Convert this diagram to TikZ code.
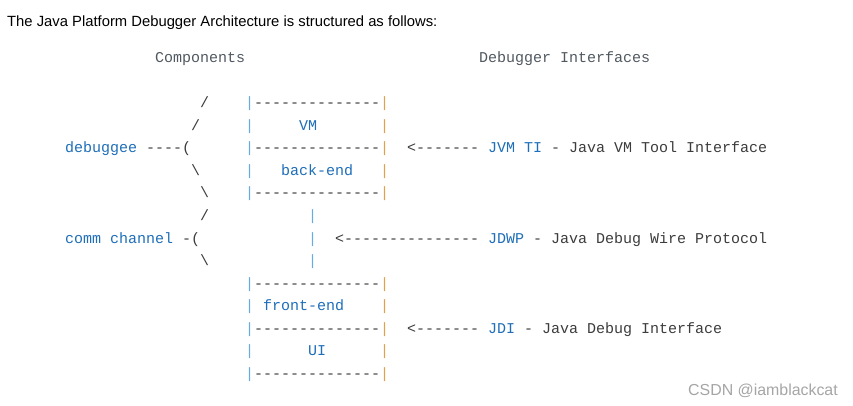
\documentclass[tikz,border=0pt]{standalone}
\usepackage{fontspec}
\setmainfont{Liberation Sans}
\setmonofont{Liberation Mono}
\definecolor{codeblue}{RGB}{30,110,185}
\definecolor{codegrey}{RGB}{60,60,60}
\definecolor{headgrey}{RGB}{80,88,96}
\definecolor{pipeblue}{RGB}{105,170,225}
\definecolor{pipeorange}{RGB}{225,160,80}
\definecolor{markgrey}{RGB}{165,165,165}
\tikzset{
	code/.style={anchor=base west, inner sep=0pt, font=\ttfamily\fontsize{15}{18}\selectfont, text=codegrey},
	ident/.style={code, text=codeblue},
	head/.style={code, text=headgrey},
	lpipe/.style={code, text=pipeblue},
	rpipe/.style={code, text=pipeorange},
	prose/.style={anchor=base west, inner sep=0pt, font=\fontsize{14.8}{18}\selectfont}
}

\begin{document}
\begin{tikzpicture}[x=9pt, y=-22.5pt]
	\useasboundingbox (-65pt,63pt) rectangle (788pt,-343pt);
	\node[prose] (title) at (-58pt,36pt) {The Java Platform Debugger Architecture is structured as follows:};
	\node[head] (comps) at (10,0) {Components};
	\node[head] (ifaces) at (46,0) {Debugger Interfaces};

	% VM / back-end box
	\node[code] (sl1) at (15,2) {/};
	\node[lpipe] (ruleAl) at (20,2) {|};
	\node[code] (ruleA) at (21,2) {--------------};
	\node[rpipe] (ruleAr) at (35,2) {|};
	\node[code] (sl2) at (14,3) {/};
	\node[lpipe] (vml) at (20,3) {|};
	\node[ident] (vm) at (26,3) {VM};
	\node[rpipe] (vmr) at (35,3) {|};
	\node[ident] (debuggee) at (0,4) {debuggee};
	\node[code] (debrace) at (9,4) {----(};
	\node[lpipe] (ruleBl) at (20,4) {|};
	\node[code] (ruleB) at (21,4) {--------------};
	\node[rpipe] (ruleBr) at (35,4) {|};
	\node[code] (jvmtiarrow) at (38,4) {<-------};
	\node[ident] (jvmti) at (47,4) {JVM TI};
	\node[code] (jvmtitext) at (54,4) {- Java VM Tool Interface};
	\node[code] (bs1) at (14,5) {\textbackslash};
	\node[lpipe] (bel) at (20,5) {|};
	\node[ident] (backend) at (24,5) {back-end};
	\node[rpipe] (ber) at (35,5) {|};
	\node[code] (bs2) at (15,6) {\textbackslash};
	\node[lpipe] (ruleCl) at (20,6) {|};
	\node[code] (ruleC) at (21,6) {--------------};
	\node[rpipe] (ruleCr) at (35,6) {|};

	% comm channel
	\node[code] (sl3) at (15,7) {/};
	\node[lpipe] (cha) at (27,7) {|};
	\node[ident] (comm) at (0,8) {comm channel};
	\node[code] (commbrace) at (13,8) {-(};
	\node[lpipe] (chb) at (27,8) {|};
	\node[code] (jdwparrow) at (30,8) {<---------------};
	\node[ident] (jdwp) at (47,8) {JDWP};
	\node[code] (jdwptext) at (52,8) {- Java Debug Wire Protocol};
	\node[code] (bs3) at (15,9) {\textbackslash};
	\node[lpipe] (chc) at (27,9) {|};

	% front-end / UI box
	\node[lpipe] (ruleDl) at (20,10) {|};
	\node[code] (ruleD) at (21,10) {--------------};
	\node[rpipe] (ruleDr) at (35,10) {|};
	\node[lpipe] (fel) at (20,11) {|};
	\node[ident] (frontend) at (22,11) {front-end};
	\node[rpipe] (fer) at (35,11) {|};
	\node[lpipe] (ruleEl) at (20,12) {|};
	\node[code] (ruleE) at (21,12) {--------------};
	\node[rpipe] (ruleEr) at (35,12) {|};
	\node[code] (jdiarrow) at (38,12) {<-------};
	\node[ident] (jdi) at (47,12) {JDI};
	\node[code] (jditext) at (51,12) {- Java Debug Interface};
	\node[lpipe] (uil) at (20,13) {|};
	\node[ident] (ui) at (27,13) {UI};
	\node[rpipe] (uir) at (35,13) {|};
	\node[lpipe] (ruleFl) at (20,14) {|};
	\node[code] (ruleF) at (21,14) {--------------};
	\node[rpipe] (ruleFr) at (35,14) {|};

	\node[prose, font=\fontsize{15.9}{18}\selectfont, text=markgrey] (mark) at (623pt,-332pt) {CSDN @iamblackcat};
\end{tikzpicture}
\end{document}
